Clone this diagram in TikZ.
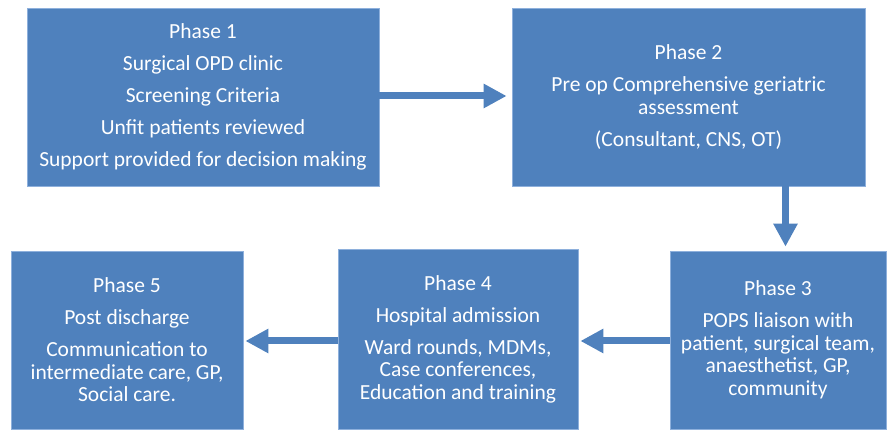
\documentclass[tikz,border=0pt]{standalone}
\usepackage{fontspec}
\setmainfont{Carlito}
\usetikzlibrary{arrows.meta}
\definecolor{phasefill}{HTML}{4F81BD}
\definecolor{phaseedge}{HTML}{8EB0DC}
\begin{document}
\begin{tikzpicture}[x=1pt,y=1pt,
  phasebox/.style={rectangle, fill=phasefill, draw=phaseedge, line width=0.8pt,
    inner sep=0pt, align=center, text=white,
    font=\fontsize{21.5}{22.5}\selectfont},
  flowarrow/.style={draw=phasefill, line width=7pt,
    -{Triangle[length=23pt,width=23pt]}}]
\useasboundingbox (0,0) rectangle (887,430);
\fill[white] (0,0) rectangle (887,430);

\node[phasebox, minimum width=352pt, minimum height=178pt] (p1) at (203,333)
  {Phase 1\\[9.5pt] Surgical OPD clinic\\[9.5pt] Screening Criteria\\[9.5pt]
   Unfit patients reviewed\\[9.5pt] Support provided for decision making};
\node[phasebox, minimum width=353pt, minimum height=178pt] (p2) at (688.5,333)
  {Phase 2\\[9.5pt] Pre op Comprehensive geriatric\\ assessment\\[9.5pt]
   (Consultant, CNS, OT)};
\node[phasebox, minimum width=216pt, minimum height=178pt] (p3) at (778,90)
  {Phase 3\\[9.5pt] POPS liaison with\\ patient, surgical team,\\
   anaesthetist, GP,\\ community};
\node[phasebox, minimum width=240pt, minimum height=180pt] (p4) at (458,91)
  {Phase 4\\[9.5pt] Hospital admission\\[9.5pt] Ward rounds, MDMs,\\
   Case conferences,\\ Education and training};
\node[phasebox, minimum width=232pt, minimum height=178pt] (p5) at (127,90)
  {Phase 5\\[9.5pt] Post discharge\\[9.5pt] Communication to\\
   intermediate care, GP,\\ Social care.};

% flow between the phases
\draw[flowarrow, shorten >=5pt] ([yshift=1pt]p1.east) -- ([yshift=1pt]p1.east -| p2.west);
\draw[flowarrow, shorten >=4pt] ([xshift=97pt]p2.south) -- ([xshift=97pt]p2.south |- p3.north);
\draw[flowarrow, shorten >=2pt] ([yshift=-1pt]p3.west) -- ([yshift=-1pt]p3.west -| p4.east);
\draw[flowarrow, shorten >=2pt] ([yshift=-1pt]p3.west -| p4.west) -- ([yshift=-1pt]p3.west -| p5.east);
\end{tikzpicture}
\end{document}
